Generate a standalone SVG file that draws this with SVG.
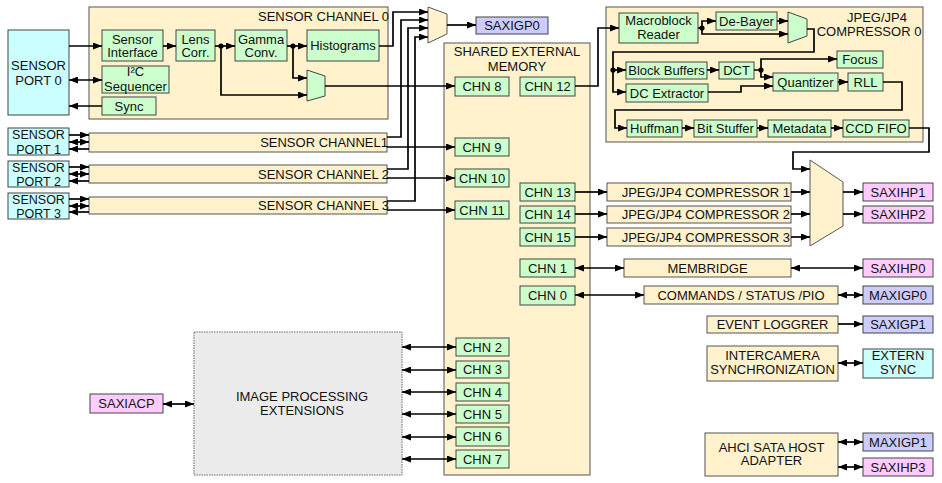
<svg xmlns="http://www.w3.org/2000/svg" width="942" height="483" viewBox="0 0 942 483">
<style>
text{font-family:"Liberation Sans",Arial,sans-serif;font-size:13px;fill:#111;text-anchor:middle}
.sp{font-size:12.5px}
.ch{fill:#fff2cc;stroke:#555;stroke-width:1}
.g{fill:#ccffcc;stroke:#444;stroke-width:1}
.cy{fill:#ccffff;stroke:#444;stroke-width:1}
.pk{fill:#ffccff;stroke:#444;stroke-width:1}
.lv{fill:#ccccff;stroke:#444;stroke-width:1}
.ipe{fill:#ececec;stroke:#666;stroke-width:1;stroke-dasharray:1.5,1}
.w{fill:none;stroke:#000;stroke-width:1.7}
.a{marker-end:url(#ah)}
.d{marker-start:url(#ah);marker-end:url(#ah)}
.e{text-anchor:end}
</style>
<defs>
<marker id="ah" markerUnits="userSpaceOnUse" markerWidth="9" markerHeight="7" refX="9" refY="3.5" orient="auto-start-reverse"><path d="M0,0 L9,3.5 L0,7 z" fill="#000"/></marker>
</defs>

<g id="sensor-channel-0"><rect class="ch" x="89" y="7" width="299" height="112"/><text class="e" x="389" y="21">SENSOR CHANNEL 0</text></g>
<g id="sensor-port-0"><rect class="cy" x="8" y="30" width="61" height="85"/><text x="38.5" y="69.5">SENSOR</text><text x="38.5" y="84.5">PORT 0</text></g>
<g id="sensor-interface"><rect class="g" x="102" y="30" width="61" height="31"/><text x="132.5" y="43.5">Sensor</text><text x="132.5" y="57">Interface</text></g>
<g id="i2c-sequencer"><rect class="g" x="102" y="66" width="67" height="27"/><text x="135.5" y="76">I²C</text><text x="135.5" y="91">Sequencer</text></g>
<g id="sync"><rect class="g" x="102" y="97" width="54" height="18"/><text x="129" y="110.5">Sync</text></g>
<g id="lens-corr"><rect class="g" x="176" y="30" width="39" height="31"/><text x="195.5" y="43.5">Lens</text><text x="195.5" y="57">Corr.</text></g>
<g id="gamma-conv"><rect class="g" x="235" y="30" width="52" height="31"/><text x="261" y="43.5">Gamma</text><text x="261" y="57">Conv.</text></g>
<g id="histograms"><rect class="g" x="307" y="30" width="72" height="31"/><text x="343" y="50">Histograms</text></g>
<g id="mux-ch0"><polygon class="g" points="307,70 325,76 325,96 307,101"/></g>

<g id="sensor-port-1"><rect class="cy" x="8" y="128" width="61" height="27"/><text class="sp" x="38.5" y="139">SENSOR</text><text class="sp" x="38.5" y="153.5">PORT 1</text></g>
<g id="sensor-port-2"><rect class="cy" x="8" y="161" width="61" height="26"/><text class="sp" x="38.5" y="171.5">SENSOR</text><text class="sp" x="38.5" y="186">PORT 2</text></g>
<g id="sensor-port-3"><rect class="cy" x="8" y="193" width="61" height="26"/><text class="sp" x="38.5" y="203.5">SENSOR</text><text class="sp" x="38.5" y="218">PORT 3</text></g>
<g id="sensor-channel-1"><rect class="ch" x="89" y="133" width="298" height="19"/><text class="e" x="388" y="147">SENSOR CHANNEL1</text></g>
<g id="sensor-channel-2"><rect class="ch" x="89" y="165" width="298" height="18"/><text class="e" x="389" y="178.5">SENSOR CHANNEL 2</text></g>
<g id="sensor-channel-3"><rect class="ch" x="89" y="197" width="298" height="17"/><text class="e" x="389" y="210">SENSOR CHANNEL 3</text></g>

<g id="mux-gp0"><polygon class="ch" points="428,7 447,14 447,34 428,43"/></g>
<g id="saxigp0"><rect class="lv" x="476" y="17" width="72" height="17"/><text x="512" y="30">SAXIGP0</text></g>

<g id="shared-memory"><rect class="ch" x="444" y="43" width="146" height="432"/><text x="517" y="56">SHARED EXTERNAL</text><text x="517" y="71">MEMORY</text></g>
<g id="chn8"><rect class="g" x="455" y="77" width="54" height="19"/><text x="482" y="91">CHN 8</text></g>
<g id="chn12"><rect class="g" x="520" y="77" width="55" height="19"/><text x="547.5" y="91">CHN 12</text></g>
<g id="chn9"><rect class="g" x="455" y="138" width="54" height="18"/><text x="482" y="151.5">CHN 9</text></g>
<g id="chn10"><rect class="g" x="455" y="169" width="54" height="18"/><text x="482" y="182.5">CHN 10</text></g>
<g id="chn11"><rect class="g" x="455" y="201" width="54" height="18"/><text x="482" y="214.5">CHN 11</text></g>
<g id="chn13"><rect class="g" x="520" y="183" width="55" height="18"/><text x="547.5" y="196.5">CHN 13</text></g>
<g id="chn14"><rect class="g" x="520" y="206" width="55" height="17"/><text x="547.5" y="219">CHN 14</text></g>
<g id="chn15"><rect class="g" x="520" y="228" width="55" height="18"/><text x="547.5" y="241.5">CHN 15</text></g>
<g id="chn1"><rect class="g" x="520" y="259" width="55" height="18"/><text x="547.5" y="272.5">CHN 1</text></g>
<g id="chn0"><rect class="g" x="520" y="286" width="55" height="19"/><text x="547.5" y="300">CHN 0</text></g>
<g id="chn2"><rect class="g" x="456" y="338" width="53" height="18"/><text x="482.5" y="351.5">CHN 2</text></g>
<g id="chn3"><rect class="g" x="456" y="361" width="53" height="17"/><text x="482.5" y="374">CHN 3</text></g>
<g id="chn4"><rect class="g" x="456" y="383" width="53" height="18"/><text x="482.5" y="396.5">CHN 4</text></g>
<g id="chn5"><rect class="g" x="456" y="405" width="53" height="18"/><text x="482.5" y="418.5">CHN 5</text></g>
<g id="chn6"><rect class="g" x="456" y="427" width="53" height="19"/><text x="482.5" y="441">CHN 6</text></g>
<g id="chn7"><rect class="g" x="456" y="450" width="53" height="18"/><text x="482.5" y="463.5">CHN 7</text></g>

<g id="ipe"><rect class="ipe" x="194" y="332" width="208" height="143"/><text x="302" y="401">IMAGE PROCESSING</text><text x="302" y="414.5">EXTENSIONS</text></g>
<g id="saxiacp"><rect class="pk" x="90" y="394" width="73" height="19"/><text x="126.5" y="408">SAXIACP</text></g>

<g id="compressor-0"><rect class="ch" x="606" y="7" width="317" height="135"/><text x="877" y="21.5">JPEG/JP4</text><text x="869" y="36">COMPRESSOR 0</text></g>
<g id="macroblock-reader"><rect class="g" x="619" y="13" width="79" height="30"/><text x="658.5" y="25">Macroblock</text><text x="658.5" y="38.5">Reader</text></g>
<g id="de-bayer"><rect class="g" x="716" y="12" width="61" height="18"/><text x="746.5" y="25.5">De-Bayer</text></g>
<g id="mux-c0"><polygon class="g" points="788,12 807,19 807,36 788,43"/></g>
<g id="block-buffers"><rect class="g" x="626" y="62" width="81" height="17"/><text x="666.5" y="75">Block Buffers</text></g>
<g id="dc-extractor"><rect class="g" x="626" y="84" width="82" height="18"/><text x="667" y="97.5">DC Extractor</text></g>
<g id="dct"><rect class="g" x="719" y="62" width="35" height="17"/><text x="736.5" y="75">DCT</text></g>
<g id="focus"><rect class="g" x="837" y="51" width="46" height="17"/><text x="860" y="64">Focus</text></g>
<g id="quantizer"><rect class="g" x="773" y="73" width="65" height="18"/><text x="805.5" y="86.5">Quantizer</text></g>
<g id="rll"><rect class="g" x="848" y="73" width="35" height="18"/><text x="865.5" y="86.5">RLL</text></g>
<g id="huffman"><rect class="g" x="627" y="120" width="55" height="17"/><text x="654.5" y="133">Huffman</text></g>
<g id="bit-stuffer"><rect class="g" x="694" y="120" width="63" height="17"/><text x="725.5" y="133">Bit Stuffer</text></g>
<g id="metadata"><rect class="g" x="768" y="120" width="63" height="17"/><text x="799.5" y="133">Metadata</text></g>
<g id="ccd-fifo"><rect class="g" x="843" y="120" width="66" height="17"/><text x="876" y="133">CCD FIFO</text></g>

<g id="compressor-1"><rect class="ch" x="607" y="183" width="184" height="18"/><text class="e" x="790" y="196.5">JPEG/JP4 COMPRESSOR 1</text></g>
<g id="compressor-2"><rect class="ch" x="607" y="206" width="184" height="17"/><text class="e" x="790" y="219">JPEG/JP4 COMPRESSOR 2</text></g>
<g id="compressor-3"><rect class="ch" x="607" y="228" width="184" height="18"/><text class="e" x="790" y="241.5">JPEG/JP4 COMPRESSOR 3</text></g>
<g id="mux-hp"><polygon class="ch" points="810,160 843,182 843,226 810,246"/></g>
<g id="saxihp1"><rect class="pk" x="863" y="183" width="70" height="18"/><text x="898" y="196.5">SAXIHP1</text></g>
<g id="saxihp2"><rect class="pk" x="863" y="206" width="70" height="17"/><text x="898" y="219">SAXIHP2</text></g>
<g id="membridge"><rect class="ch" x="624" y="259" width="167" height="18"/><text x="707.5" y="272.5">MEMBRIDGE</text></g>
<g id="saxihp0"><rect class="pk" x="863" y="259" width="70" height="18"/><text x="898" y="272.5">SAXIHP0</text></g>
<g id="commands"><rect class="ch" x="644" y="286" width="194" height="18"/><text x="741" y="299.5">COMMANDS / STATUS /PIO</text></g>
<g id="maxigp0"><rect class="lv" x="863" y="286" width="70" height="18"/><text x="898" y="299.5">MAXIGP0</text></g>
<g id="event-logger"><rect class="ch" x="707" y="316" width="131" height="17"/><text x="772.5" y="329">EVENT LOGGRER</text></g>
<g id="saxigp1"><rect class="lv" x="863" y="316" width="70" height="17"/><text x="898" y="329">SAXIGP1</text></g>
<g id="intercamera"><rect class="ch" x="707" y="346" width="131" height="35"/><text x="772.5" y="359.5">INTERCAMERA</text><text x="772.5" y="373.5">SYNCHRONIZATION</text></g>
<g id="extern-sync"><rect class="cy" x="863" y="349" width="70" height="29"/><text x="898" y="359.5">EXTERN</text><text x="898" y="373.5">SYNC</text></g>
<g id="ahci"><rect class="ch" x="705" y="433" width="133" height="43"/><text x="771.5" y="451.5">AHCI SATA HOST</text><text x="771.5" y="465">ADAPTER</text></g>
<g id="maxigp1"><rect class="lv" x="863" y="433" width="70" height="18"/><text x="898" y="446.5">MAXIGP1</text></g>
<g id="saxihp3"><rect class="pk" x="863" y="458" width="70" height="18"/><text x="898" y="471.5">SAXIHP3</text></g>

<g id="connectors">
<path class="w a" d="M69,46 H102"/>
<path class="w d" d="M69,80 H102"/>
<path class="w a" d="M102,106 H69"/>
<path class="w a" d="M163,46 H176"/>
<path class="w a" d="M215,46 H235"/>
<path class="w a" d="M221,46 V95 H307"/>
<path class="w a" d="M287,46 H307"/>
<path class="w a" d="M293,46 V78 H307"/>
<circle cx="221" cy="46" r="2.6"/>
<circle cx="293" cy="46" r="2.6"/>
<path class="w a" d="M325,86 H455"/>
<path class="w a" d="M379,46 H393 V12 H428"/>
<path class="w a" d="M387,137 H401 V20 H428"/>
<path class="w a" d="M387,169 H408 V28 H428"/>
<path class="w a" d="M387,201 H415 V37 H428"/>
<path class="w a" d="M447,25 H476"/>
<path class="w a" d="M69,135 H89"/>
<path class="w d" d="M69,142 H89"/>
<path class="w a" d="M89,149 H69"/>
<path class="w a" d="M69,167 H89"/>
<path class="w d" d="M69,174 H89"/>
<path class="w a" d="M89,181 H69"/>
<path class="w a" d="M69,199 H89"/>
<path class="w d" d="M69,206 H89"/>
<path class="w a" d="M89,212 H69"/>
<path class="w a" d="M387,147 H455"/>
<path class="w a" d="M387,178 H455"/>
<path class="w a" d="M387,210 H455"/>
<path class="w a" d="M575,86 H598 V28 H619"/>
<path class="w a" d="M698,28 H702 V21 H716"/>
<path class="w a" d="M702,28 V34 H788"/>
<circle cx="702" cy="28" r="2.6"/>
<path class="w a" d="M777,21 H788"/>
<path class="w a" d="M807,29 H814 V52 H613 V92 H626"/>
<path class="w a" d="M613,70 H626"/>
<circle cx="613" cy="70" r="2.6"/>
<path class="w a" d="M707,70 H719"/>
<path class="w a" d="M754,70 H761 V59 H837"/>
<path class="w a" d="M761,70 V77 H773"/>
<circle cx="761" cy="70" r="2.6"/>
<path class="w a" d="M708,92 H741 V86 H773"/>
<path class="w a" d="M838,82 H848"/>
<path class="w a" d="M883,82 H902 V110 H615 V128 H627"/>
<path class="w a" d="M682,128 H694"/>
<path class="w a" d="M757,128 H768"/>
<path class="w a" d="M831,128 H843"/>
<path class="w a" d="M909,128 H929 V152 H793 V169 H810"/>
<path class="w a" d="M575,192 H607"/>
<path class="w a" d="M575,214 H607"/>
<path class="w a" d="M575,237 H607"/>
<path class="w a" d="M791,192 H810"/>
<path class="w a" d="M791,214 H810"/>
<path class="w a" d="M791,237 H810"/>
<path class="w a" d="M843,192 H863"/>
<path class="w a" d="M843,214 H863"/>
<path class="w d" d="M575,268 H624"/>
<path class="w d" d="M791,268 H863"/>
<path class="w d" d="M575,295 H644"/>
<path class="w d" d="M838,295 H863"/>
<path class="w a" d="M838,324 H863"/>
<path class="w d" d="M838,363 H863"/>
<path class="w d" d="M838,442 H863"/>
<path class="w d" d="M838,467 H863"/>
<path class="w d" d="M163,404 H194"/>
<path class="w d" d="M402,347 H456"/>
<path class="w d" d="M402,370 H456"/>
<path class="w d" d="M402,392 H456"/>
<path class="w d" d="M402,414 H456"/>
<path class="w d" d="M402,437 H456"/>
<path class="w d" d="M402,459 H456"/>
</g>
</svg>
